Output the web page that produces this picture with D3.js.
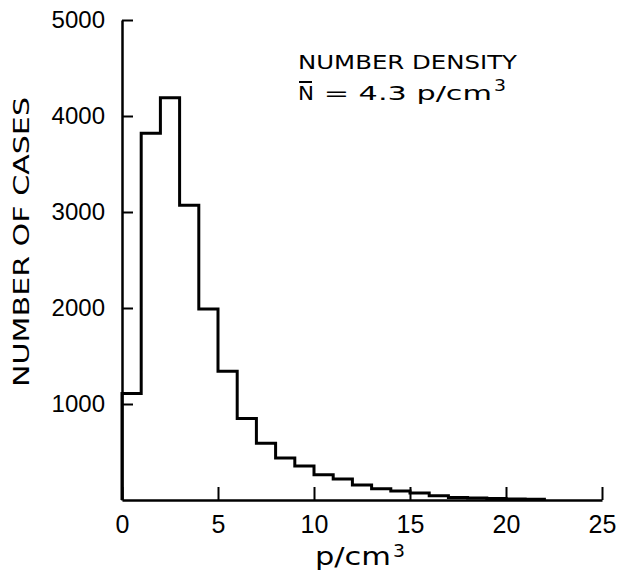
<!DOCTYPE html>
<html>
<head>
<meta charset="utf-8">
<script src="https://cdn.jsdelivr.net/npm/d3@7"></script>
<style>
  html, body { margin: 0; padding: 0; background: #fff; }
  svg { display: block; }
  text { fill: #000; }
</style>
</head>
<body>
<svg id="chart" width="619" height="573"></svg>
<script>
// ---- data ----
const binStarts = [0,1,2,3,4,5,6,7,8,9,10,11,12,13,14,15,16,17,18,19,20,21];
const counts    = [1110,3820,4190,3070,1990,1340,850,590,438,354,262,218,156,116,94,72,44,26,20,15,11,8];
const binWidth = 1;
const xTicks = [0,5,10,15,20,25];
const yTicks = [1000,2000,3000,4000,5000];
const xLabel = "p/cm";
const xLabelSup = "3";
const yLabel = "NUMBER OF CASES";
const noteLine1 = "NUMBER DENSITY";
const noteSymbol = "N";
const noteLine2 = " = 4.3 p/cm";
const noteSup = "3";

const LABEL_FONT = "DejaVu Sans, Verdana, sans-serif";
const TICK_FONT = "Liberation Sans, Arial, sans-serif";

// ---- layout ----
const svg = d3.select("#chart");
const x = d3.scaleLinear().domain([0, 25]).range([122, 602]);
const y = d3.scaleLinear().domain([0, 5000]).range([500, 20]);

// histogram step outline
const pts = [[x(binStarts[0]), y(0)]];
binStarts.forEach((b, i) => {
  pts.push([x(b), y(counts[i])]);
  pts.push([x(b + binWidth), y(counts[i])]);
});
pts.push([x(binStarts[binStarts.length - 1] + binWidth), y(0)]);
svg.append("path")
  .attr("d", d3.line()(pts))
  .attr("fill", "none")
  .attr("stroke", "#000")
  .attr("stroke-width", 3)
  .attr("stroke-linejoin", "miter");

// y axis
const yAxis = svg.append("g")
  .attr("transform", `translate(${x(0)},0)`)
  .call(d3.axisLeft(y).tickValues(yTicks).tickSize(-11).tickSizeOuter(0).tickPadding(17).tickFormat(d3.format("d")));
yAxis.select(".domain").attr("stroke-width", 2.5);
yAxis.selectAll(".tick line").attr("stroke-width", 2);
yAxis.selectAll(".tick text").attr("font-size", 24).attr("font-family", TICK_FONT).attr("fill", "#000");

// x axis
const xAxis = svg.append("g")
  .attr("transform", `translate(0,${y(0)})`)
  .call(d3.axisBottom(x).tickValues(xTicks).tickSize(-13).tickSizeOuter(0).tickPadding(15));
xAxis.select(".domain").attr("stroke-width", 2.5);
xAxis.selectAll(".tick line").attr("stroke-width", 2);
xAxis.selectAll(".tick text").attr("font-size", 25).attr("font-family", TICK_FONT).attr("fill", "#000");

// x axis title
svg.append("text")
  .attr("x", 315).attr("y", 565)
  .attr("font-family", LABEL_FONT)
  .attr("font-size", 24)
  .attr("textLength", 76)
  .attr("lengthAdjust", "spacingAndGlyphs")
  .text(xLabel);
svg.append("text")
  .attr("x", 393).attr("y", 557)
  .attr("font-family", LABEL_FONT)
  .attr("font-size", 18)
  .attr("textLength", 12)
  .attr("lengthAdjust", "spacingAndGlyphs")
  .text(xLabelSup);

// y axis title
svg.append("text")
  .attr("transform", "translate(29,242) rotate(-90)")
  .attr("text-anchor", "middle")
  .attr("font-family", LABEL_FONT)
  .attr("font-size", 21)
  .attr("textLength", 290)
  .attr("lengthAdjust", "spacingAndGlyphs")
  .text(yLabel);

// annotation
svg.append("text")
  .attr("x", 298).attr("y", 69)
  .attr("font-family", LABEL_FONT)
  .attr("font-size", 20)
  .attr("textLength", 219)
  .attr("lengthAdjust", "spacingAndGlyphs")
  .text(noteLine1);

const nText = svg.append("text")
  .attr("x", 298).attr("y", 100)
  .attr("font-family", LABEL_FONT)
  .attr("font-size", 20)
  .attr("textLength", 16)
  .attr("lengthAdjust", "spacingAndGlyphs")
  .text(noteSymbol);
svg.append("text")
  .attr("x", 314).attr("y", 100)
  .attr("font-family", LABEL_FONT)
  .attr("font-size", 20)
  .attr("textLength", 178)
  .attr("lengthAdjust", "spacingAndGlyphs")
  .attr("xml:space", "preserve")
  .style("white-space", "pre")
  .text(noteLine2);
svg.append("text")
  .attr("x", 494).attr("y", 91)
  .attr("font-family", LABEL_FONT)
  .attr("font-size", 16)
  .attr("textLength", 12)
  .attr("lengthAdjust", "spacingAndGlyphs")
  .text(noteSup);
svg.append("line")
  .attr("x1", 299).attr("x2", 312)
  .attr("y1", 82).attr("y2", 82)
  .attr("stroke", "#000").attr("stroke-width", 2);
</script>
</body>
</html>
